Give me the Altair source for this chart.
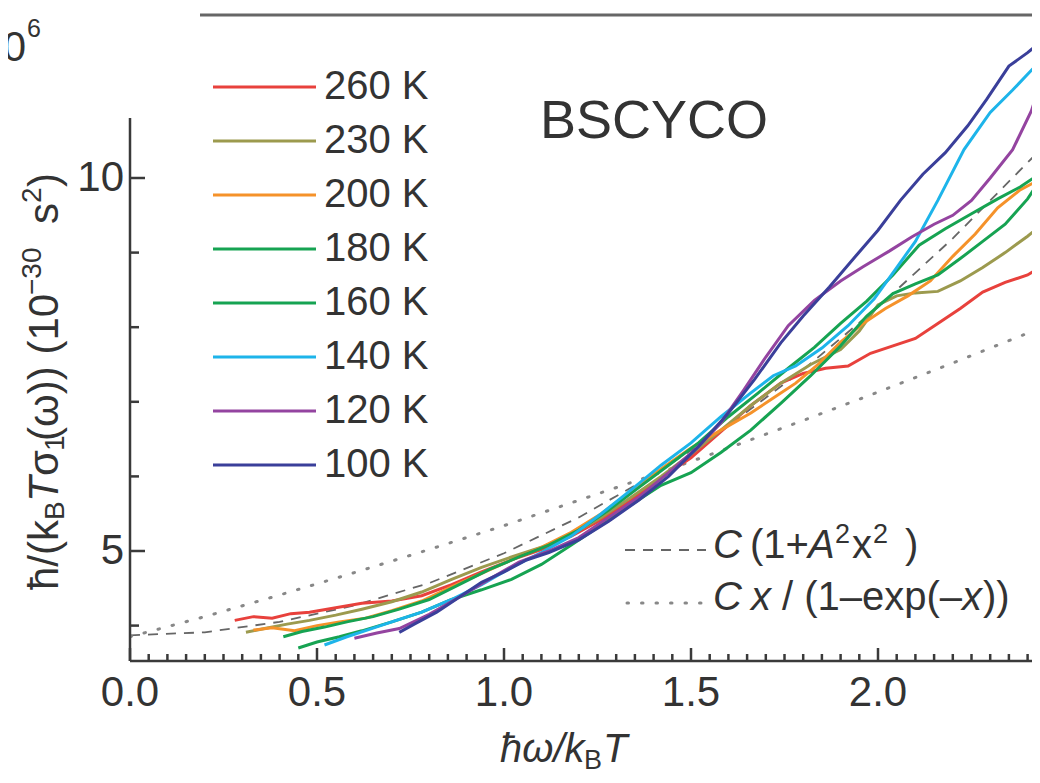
import altair as alt
import pandas as pd
import numpy as np

# ---------------- data ----------------
series_names = ["260 K", "230 K", "200 K", "180 K", "160 K", "140 K", "120 K", "100 K"]
series_colors = ["#e8413c", "#9c9a4e", "#f5922a", "#16a352", "#16a352", "#1db4ea", "#9444a0", "#3a3f9a"]

x_260 = [0.28, 0.33, 0.38, 0.43, 0.48, 0.55, 0.62, 0.70, 0.78, 0.86, 0.94, 1.02, 1.10, 1.18, 1.26, 1.34, 1.42,
         1.50, 1.58, 1.66, 1.74, 1.80, 1.86, 1.92, 1.98, 2.04, 2.10, 2.16, 2.22, 2.28, 2.34, 2.40, 2.44]
y_260 = [4.07, 4.12, 4.10, 4.16, 4.18, 4.24, 4.30, 4.33, 4.40, 4.55, 4.72, 4.88, 5.02, 5.20, 5.42, 5.68, 5.98,
         6.25, 6.60, 6.95, 7.25, 7.38, 7.45, 7.48, 7.65, 7.75, 7.85, 8.05, 8.25, 8.47, 8.60, 8.70, 8.82]

x_230 = [0.31, 0.36, 0.42, 0.48, 0.55, 0.62, 0.70, 0.78, 0.86, 0.94, 1.02, 1.10, 1.18, 1.26, 1.34, 1.42, 1.50,
         1.58, 1.66, 1.74, 1.82, 1.90, 1.95, 2.00, 2.05, 2.10, 2.16, 2.22, 2.28, 2.34, 2.40, 2.44]
y_230 = [3.91, 3.96, 4.02, 4.07, 4.14, 4.22, 4.32, 4.45, 4.62, 4.78, 4.92, 5.05, 5.22, 5.45, 5.72, 6.00, 6.30,
         6.62, 6.95, 7.25, 7.50, 7.70, 7.95, 8.30, 8.42, 8.46, 8.48, 8.62, 8.80, 9.00, 9.22, 9.38]

x_200 = [0.33, 0.38, 0.44, 0.50, 0.56, 0.63, 0.70, 0.78, 0.86, 0.94, 1.02, 1.10, 1.18, 1.26, 1.34, 1.42, 1.50,
         1.58, 1.66, 1.72, 1.78, 1.84, 1.90, 1.96, 2.02, 2.08, 2.14, 2.20, 2.26, 2.32, 2.38, 2.44]
y_200 = [3.94, 3.97, 3.93, 4.00, 4.05, 4.10, 4.20, 4.33, 4.52, 4.70, 4.88, 5.05, 5.25, 5.50, 5.80, 6.10, 6.38,
         6.62, 6.85, 7.05, 7.25, 7.50, 7.80, 8.05, 8.25, 8.42, 8.62, 8.95, 9.25, 9.60, 9.84, 10.00]

x_180 = [0.41, 0.46, 0.52, 0.58, 0.65, 0.72, 0.80, 0.88, 0.96, 1.04, 1.12, 1.20, 1.28, 1.36, 1.44, 1.52, 1.60,
         1.68, 1.76, 1.83, 1.90, 1.97, 2.04, 2.11, 2.18, 2.25, 2.32, 2.38, 2.44]
y_180 = [3.85, 3.92, 3.98, 4.05, 4.12, 4.22, 4.35, 4.55, 4.75, 4.92, 5.08, 5.28, 5.55, 5.85, 6.15, 6.45, 6.80,
         7.12, 7.45, 7.73, 8.05, 8.35, 8.70, 9.10, 9.32, 9.52, 9.72, 9.88, 10.08]

x_160 = [0.45, 0.50, 0.56, 0.62, 0.70, 0.78, 0.86, 0.94, 1.02, 1.10, 1.18, 1.26, 1.34, 1.42, 1.50, 1.58, 1.66,
         1.74, 1.82, 1.90, 1.97, 2.04, 2.10, 2.16, 2.22, 2.28, 2.34, 2.40, 2.44]
y_160 = [3.70, 3.78, 3.85, 3.93, 4.05, 4.18, 4.35, 4.48, 4.62, 4.82, 5.08, 5.35, 5.62, 5.88, 6.05, 6.32, 6.62,
         6.98, 7.35, 7.75, 8.15, 8.45, 8.58, 8.70, 8.92, 9.15, 9.38, 9.72, 10.02]

x_140 = [0.52, 0.58, 0.64, 0.70, 0.78, 0.86, 0.94, 1.02, 1.10, 1.18, 1.26, 1.34, 1.42, 1.50, 1.58, 1.66, 1.72,
         1.78, 1.85, 1.92, 1.99, 2.05, 2.10, 2.16, 2.23, 2.30, 2.36, 2.44]
y_140 = [3.74, 3.85, 3.95, 4.05, 4.18, 4.35, 4.55, 4.78, 4.98, 5.20, 5.50, 5.82, 6.15, 6.45, 6.80, 7.12, 7.35,
         7.48, 7.72, 8.02, 8.38, 8.80, 9.15, 9.70, 10.38, 10.88, 11.18, 11.60]

x_120 = [0.60, 0.66, 0.72, 0.80, 0.88, 0.96, 1.04, 1.12, 1.20, 1.28, 1.36, 1.44, 1.52, 1.58, 1.64, 1.70, 1.76,
         1.83, 1.90, 1.96, 2.03, 2.09, 2.15, 2.20, 2.25, 2.30, 2.36, 2.41, 2.44]
y_120 = [3.83, 3.90, 3.96, 4.15, 4.38, 4.62, 4.85, 5.00, 5.18, 5.45, 5.72, 6.05, 6.40, 6.72, 7.15, 7.60, 8.02,
         8.36, 8.62, 8.81, 9.02, 9.21, 9.38, 9.50, 9.70, 10.00, 10.38, 10.90, 11.35]

x_100 = [0.72, 0.76, 0.82, 0.88, 0.94, 1.00, 1.06, 1.12, 1.20, 1.28, 1.36, 1.44, 1.52, 1.60, 1.67, 1.74, 1.80,
         1.87, 1.94, 2.00, 2.06, 2.12, 2.18, 2.24, 2.29, 2.35, 2.40, 2.44]
y_100 = [3.91, 4.02, 4.18, 4.38, 4.58, 4.72, 4.88, 4.98, 5.15, 5.40, 5.68, 6.00, 6.40, 6.85, 7.30, 7.79, 8.15,
         8.54, 8.95, 9.30, 9.70, 10.05, 10.34, 10.70, 11.05, 11.50, 11.68, 11.85]

fit_x = [0.0, 0.2, 0.4, 0.6, 0.8, 1.0, 1.2, 1.4, 1.6, 1.8, 2.0, 2.2, 2.44]
fit_dashed = [3.87, 3.91, 4.05, 4.27, 4.57, 4.97, 5.45, 6.02, 6.68, 7.43, 8.27, 9.19, 10.41]
fit_dotted = [3.85, 4.12, 4.41, 4.71, 5.02, 5.34, 5.68, 6.02, 6.38, 6.75, 7.13, 7.52, 8.00]

x_tick_labels = [0.0, 0.5, 1.0, 1.5, 2.0]
y_tick_labels = [5, 10]
x_minor_ticks = [round(0.05 * k, 2) for k in range(0, 49) if k % 10 != 0]
y_minor_ticks = [4, 6, 7, 8, 9]

# ---------------- layout ----------------
FONT = "Liberation Sans"
TXT = "#333333"
AX = "#3a3a3a"
PLOT_W, PLOT_H = 902, 653
PAD = {"left": 122, "top": 0, "right": 0, "bottom": 110}
PX_PER_X = 374.0
PX_PER_Y = 74.6
X_MIN, X_MAX = 0.0, PLOT_W / PX_PER_X
Y_MIN = 5 - 110 / PX_PER_Y
Y_MAX = 5 + 543 / PX_PER_Y


def dx(page_x):
    return (page_x - 130) / PX_PER_X


def dy(page_y):
    return 5 + (551 - page_y) / PX_PER_Y


xs = alt.Scale(domain=[X_MIN, X_MAX], nice=False, zero=False)
ys = alt.Scale(domain=[Y_MIN, Y_MAX], nice=False, zero=False)


def X(field="x"):
    return alt.X(f"{field}:Q", scale=xs, axis=None)


def Y(field="y"):
    return alt.Y(f"{field}:Q", scale=ys, axis=None)


# ---------------- curves ----------------
xs_list = [x_260, x_230, x_200, x_180, x_160, x_140, x_120, x_100]
ys_list = [y_260, y_230, y_200, y_180, y_160, y_140, y_120, y_100]
rows = []
for name, xv, yv in zip(series_names, xs_list, ys_list):
    for i, (a, b) in enumerate(zip(xv, yv)):
        rows.append({"x": a, "y": b, "series": name, "i": i})
curves_df = pd.DataFrame(rows)

fit_df = pd.DataFrame({"x": fit_x, "dash": fit_dashed, "dot": fit_dotted})

dashed = alt.Chart(fit_df).mark_line(color="#666666", strokeWidth=1.8, strokeDash=[10, 8], clip=True).encode(
    x=X(), y=Y("dash"))
dotted = alt.Chart(fit_df).mark_line(color="#888888", strokeWidth=3, strokeDash=[1.5, 13], strokeCap="round",
                                     clip=True).encode(x=X(), y=Y("dot"))

color_scale = alt.Scale(domain=series_names, range=series_colors)
lines = alt.Chart(curves_df).mark_line(strokeWidth=3, clip=True).encode(
    x=X(), y=Y(),
    color=alt.Color("series:N", scale=color_scale, legend=None),
    detail="series:N",
    order="i:Q",
)

# ---------------- inward ticks: one rule per tick, start/end given as columns ----------------
tick_recs = []
for v in x_tick_labels:
    tick_recs.append({"a": v, "a2": v, "b": Y_MIN, "b2": Y_MIN + 13 / PX_PER_Y})
for v in x_minor_ticks:
    tick_recs.append({"a": v, "a2": v, "b": Y_MIN, "b2": Y_MIN + 7 / PX_PER_Y})
for v in y_tick_labels:
    tick_recs.append({"a": 0.0, "a2": 15 / PX_PER_X, "b": float(v), "b2": float(v)})
for v in y_minor_ticks:
    tick_recs.append({"a": 0.0, "a2": 9 / PX_PER_X, "b": float(v), "b2": float(v)})
tick_df = pd.DataFrame(tick_recs)
ticks = alt.Chart(tick_df).mark_rule(color=AX, strokeWidth=2.5).encode(
    x=X("a"), x2="a2:Q", y=Y("b"), y2="b2:Q")

xaxis_line = alt.Chart(pd.DataFrame({"x": [0.0], "x2": [X_MAX], "y": [Y_MIN]})).mark_rule(
    color=AX, strokeWidth=2.5).encode(x=X(), x2="x2:Q", y=Y())
yaxis_line = alt.Chart(pd.DataFrame({"x": [0.0], "y": [Y_MIN], "y2": [dy(118)]})).mark_rule(
    color=AX, strokeWidth=2.5).encode(x=X(), y=Y(), y2="y2:Q")

xlab_df = pd.DataFrame({"x": x_tick_labels, "y": [dy(693)] * len(x_tick_labels),
                        "t": [f"{v:.1f}" for v in x_tick_labels]})
xlabels = alt.Chart(xlab_df).mark_text(font=FONT, fontSize=42, align="center", baseline="middle",
                                       color=TXT).encode(x=X(), y=Y(), text="t:N")
ylab_df = pd.DataFrame({"x": [dx(124)] * len(y_tick_labels), "y": y_tick_labels,
                        "t": [str(v) for v in y_tick_labels]})
ylabels = alt.Chart(ylab_df).mark_text(font=FONT, fontSize=42, align="right", baseline="middle",
                                       color=TXT).encode(x=X(), y=Y(), text="t:N")

top_line = alt.Chart(pd.DataFrame({"x": [dx(200)], "x2": [X_MAX], "y": [dy(15)]})).mark_rule(
    color="#666666", strokeWidth=3).encode(x=X(), x2="x2:Q", y=Y())

# ---------------- legend ----------------
leg_y = [dy(87 + 54 * i) for i in range(len(series_names))]
leg_df = pd.DataFrame({"x": [dx(213)] * 8, "x2": [dx(316)] * 8, "y": leg_y, "series": series_names,
                       "tx": [dx(324)] * 8})
leg_lines = alt.Chart(leg_df).mark_rule(strokeWidth=3).encode(
    x=X(), x2="x2:Q", y=Y(),
    color=alt.Color("series:N", scale=color_scale, legend=None))
leg_text = alt.Chart(leg_df).mark_text(font=FONT, fontSize=40, align="left", baseline="middle",
                                       color=TXT).encode(x=X("tx"), y=Y(), text="series:N")


def text_layer(items, size, italic=False, angle=0, align="left", baseline="middle"):
    df = pd.DataFrame([{"x": dx(a), "y": dy(b), "t": t} for (t, a, b) in items])
    kw = dict(font=FONT, fontSize=size, align=align, baseline=baseline, color=TXT)
    if italic:
        kw["fontStyle"] = "italic"
    if angle:
        kw["angle"] = angle
    return alt.Chart(df).mark_text(**kw).encode(x=X(), y=Y(), text="t:N")


title_txt = text_layer([("BSCYCO", 540, 122)], 54)

# fit legend samples
fit_leg_dash = alt.Chart(pd.DataFrame({"x": [dx(625)], "x2": [dx(706)], "y": [dy(550)]})).mark_rule(
    color="#666666", strokeWidth=1.8, strokeDash=[10, 8]).encode(x=X(), x2="x2:Q", y=Y())
fit_leg_dot = alt.Chart(pd.DataFrame({"x": [dx(627)], "x2": [dx(708)], "y": [dy(603)]})).mark_rule(
    color="#888888", strokeWidth=3, strokeDash=[1.5, 13], strokeCap="round").encode(x=X(), x2="x2:Q", y=Y())

fit_it = text_layer([("C", 713, 546), ("A", 808, 546), ("C", 713, 598), ("x", 751, 598), ("x", 962, 598)],
                    40, italic=True)
fit_rm = text_layer([("(1+", 750, 546), ("x", 852, 546), (")", 905, 546),
                     ("/ (1–exp(–", 782, 598), ("))", 983, 598)], 40)
fit_sup = text_layer([("2", 835, 535), ("2", 873, 535)], 27)

# x title
xtitle_it = text_layer([("ħω/k", 500, 750), ("T", 603, 750)], 40, italic=True)
xtitle_sub = text_layer([("B", 584, 761)], 27)

# y title (rotated, reading upwards)
YT_X = 45
ytitle_main = text_layer([("ħ/(k", YT_X, 590), ("σ", YT_X, 476), ("(ω)) (10", YT_X, 441),
                          ("s", YT_X, 224), (")", YT_X, 187)], 42, angle=270)
ytitle_T = text_layer([("T", YT_X, 502)], 42, italic=True, angle=270)
ytitle_sub = text_layer([("B", YT_X + 11, 520), ("1", YT_X + 11, 451)], 28, angle=270)
ytitle_sup = text_layer([("−30", YT_X - 12, 295), ("2", YT_X - 12, 203)], 28, angle=270)

# neighbouring panel fragment at the top-left
frag_a = text_layer([("10", 26, 48)], 42, align="right")
frag_b = text_layer([("6", 27, 29)], 25)

chart = alt.layer(
    dashed, dotted, lines, xaxis_line, yaxis_line, xlabels, ylabels, top_line,
    leg_lines, leg_text, title_txt, fit_leg_dash, fit_leg_dot, fit_it, fit_rm, fit_sup,
    xtitle_it, xtitle_sub, ytitle_main, ytitle_T, ytitle_sub, ytitle_sup, frag_a, frag_b,
    ticks,
).properties(
    width=PLOT_W, height=PLOT_H, padding=PAD, autosize=alt.AutoSizeParams(type="none"),
    background="white",
).configure_view(stroke=None)

chart.save("out.html", embed_options={"renderer": "svg", "actions": False})
